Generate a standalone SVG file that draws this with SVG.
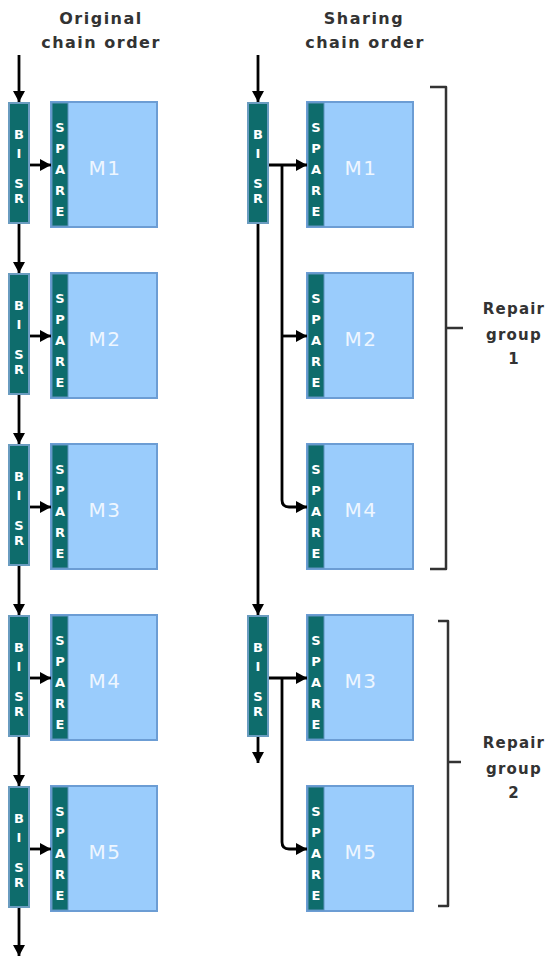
<svg xmlns="http://www.w3.org/2000/svg" width="551" height="957" viewBox="0 0 551 957">
<style>
.mem{fill:#9accfc;stroke:#6c9dd4;stroke-width:2}
.spare{fill:#0e6c6c;stroke:#5f93c0;stroke-width:1}
.bisr{fill:#0e6c6c;stroke:#6a9cc0;stroke-width:2}
.lt{font-family:"DejaVu Sans",Verdana,sans-serif;font-weight:bold;font-size:13px;fill:#ffffff;text-anchor:middle}
.ml{font-family:"DejaVu Sans",Verdana,sans-serif;font-size:20px;fill:#eef6ff;text-anchor:middle;letter-spacing:1.5px}
.hd{font-family:"DejaVu Sans",Verdana,sans-serif;font-weight:bold;font-size:16px;fill:#333333;text-anchor:middle;letter-spacing:1.5px}
.rg{font-family:"DejaVu Sans",Verdana,sans-serif;font-weight:bold;font-size:15px;fill:#333333;text-anchor:middle;letter-spacing:1.2px}
.arr{fill:none;stroke:#000;stroke-width:2.8;marker-end:url(#ah)}
.br{fill:none;stroke:#333;stroke-width:2.5;stroke-linejoin:round}
</style>
<defs>
<marker id="ah" markerUnits="userSpaceOnUse" markerWidth="12" markerHeight="12" refX="11" refY="6" orient="auto">
<path d="M0,0 L11,6 L0,12 z" fill="#000"/>
</marker>
</defs>

<g id="headers">
<text class="hd" x="101" y="24">Original</text>
<text class="hd" x="101" y="48">chain order</text>
<text class="hd" x="364" y="24">Sharing</text>
<text class="hd" x="365" y="48">chain order</text>
</g>

<!-- Left column -->
<g id="bisr-l1"><rect class="bisr" x="9" y="103" width="20" height="120"/>
<text class="lt" x="19" y="139">B</text><text class="lt" x="19" y="158">I</text><text class="lt" x="19" y="188">S</text><text class="lt" x="19" y="203">R</text></g>
<g id="mem-l1"><rect class="mem" x="51" y="102" width="106" height="125"/><rect class="spare" x="52" y="103" width="16" height="123"/>
<text class="lt" x="60" y="132">S</text><text class="lt" x="60" y="153">P</text><text class="lt" x="60" y="174">A</text><text class="lt" x="60" y="195">R</text><text class="lt" x="60" y="216">E</text>
<text class="ml" x="105" y="175">M1</text></g>

<g id="bisr-l2"><rect class="bisr" x="9" y="274" width="20" height="120"/>
<text class="lt" x="19" y="310">B</text><text class="lt" x="19" y="329">I</text><text class="lt" x="19" y="359">S</text><text class="lt" x="19" y="374">R</text></g>
<g id="mem-l2"><rect class="mem" x="51" y="273" width="106" height="125"/><rect class="spare" x="52" y="274" width="16" height="123"/>
<text class="lt" x="60" y="303">S</text><text class="lt" x="60" y="324">P</text><text class="lt" x="60" y="345">A</text><text class="lt" x="60" y="366">R</text><text class="lt" x="60" y="387">E</text>
<text class="ml" x="105" y="346">M2</text></g>

<g id="bisr-l3"><rect class="bisr" x="9" y="445" width="20" height="120"/>
<text class="lt" x="19" y="481">B</text><text class="lt" x="19" y="500">I</text><text class="lt" x="19" y="530">S</text><text class="lt" x="19" y="545">R</text></g>
<g id="mem-l3"><rect class="mem" x="51" y="444" width="106" height="125"/><rect class="spare" x="52" y="445" width="16" height="123"/>
<text class="lt" x="60" y="474">S</text><text class="lt" x="60" y="495">P</text><text class="lt" x="60" y="516">A</text><text class="lt" x="60" y="537">R</text><text class="lt" x="60" y="558">E</text>
<text class="ml" x="105" y="517">M3</text></g>

<g id="bisr-l4"><rect class="bisr" x="9" y="616" width="20" height="120"/>
<text class="lt" x="19" y="652">B</text><text class="lt" x="19" y="671">I</text><text class="lt" x="19" y="701">S</text><text class="lt" x="19" y="716">R</text></g>
<g id="mem-l4"><rect class="mem" x="51" y="615" width="106" height="125"/><rect class="spare" x="52" y="616" width="16" height="123"/>
<text class="lt" x="60" y="645">S</text><text class="lt" x="60" y="666">P</text><text class="lt" x="60" y="687">A</text><text class="lt" x="60" y="708">R</text><text class="lt" x="60" y="729">E</text>
<text class="ml" x="105" y="688">M4</text></g>

<g id="bisr-l5"><rect class="bisr" x="9" y="787" width="20" height="120"/>
<text class="lt" x="19" y="823">B</text><text class="lt" x="19" y="842">I</text><text class="lt" x="19" y="872">S</text><text class="lt" x="19" y="887">R</text></g>
<g id="mem-l5"><rect class="mem" x="51" y="786" width="106" height="125"/><rect class="spare" x="52" y="787" width="16" height="123"/>
<text class="lt" x="60" y="816">S</text><text class="lt" x="60" y="837">P</text><text class="lt" x="60" y="858">A</text><text class="lt" x="60" y="879">R</text><text class="lt" x="60" y="900">E</text>
<text class="ml" x="105" y="859">M5</text></g>

<!-- Right column -->
<g id="bisr-r1"><rect class="bisr" x="248" y="103" width="20" height="120"/>
<text class="lt" x="258" y="139">B</text><text class="lt" x="258" y="158">I</text><text class="lt" x="258" y="188">S</text><text class="lt" x="258" y="203">R</text></g>
<g id="mem-r1"><rect class="mem" x="307" y="102" width="106" height="125"/><rect class="spare" x="308" y="103" width="16" height="123"/>
<text class="lt" x="316" y="132">S</text><text class="lt" x="316" y="153">P</text><text class="lt" x="316" y="174">A</text><text class="lt" x="316" y="195">R</text><text class="lt" x="316" y="216">E</text>
<text class="ml" x="361" y="175">M1</text></g>

<g id="mem-r2"><rect class="mem" x="307" y="273" width="106" height="125"/><rect class="spare" x="308" y="274" width="16" height="123"/>
<text class="lt" x="316" y="303">S</text><text class="lt" x="316" y="324">P</text><text class="lt" x="316" y="345">A</text><text class="lt" x="316" y="366">R</text><text class="lt" x="316" y="387">E</text>
<text class="ml" x="361" y="346">M2</text></g>

<g id="mem-r4"><rect class="mem" x="307" y="444" width="106" height="125"/><rect class="spare" x="308" y="445" width="16" height="123"/>
<text class="lt" x="316" y="474">S</text><text class="lt" x="316" y="495">P</text><text class="lt" x="316" y="516">A</text><text class="lt" x="316" y="537">R</text><text class="lt" x="316" y="558">E</text>
<text class="ml" x="361" y="517">M4</text></g>

<g id="bisr-r2"><rect class="bisr" x="248" y="616" width="20" height="120"/>
<text class="lt" x="258" y="652">B</text><text class="lt" x="258" y="671">I</text><text class="lt" x="258" y="701">S</text><text class="lt" x="258" y="716">R</text></g>
<g id="mem-r3"><rect class="mem" x="307" y="615" width="106" height="125"/><rect class="spare" x="308" y="616" width="16" height="123"/>
<text class="lt" x="316" y="645">S</text><text class="lt" x="316" y="666">P</text><text class="lt" x="316" y="687">A</text><text class="lt" x="316" y="708">R</text><text class="lt" x="316" y="729">E</text>
<text class="ml" x="361" y="688">M3</text></g>

<g id="mem-r5"><rect class="mem" x="307" y="786" width="106" height="125"/><rect class="spare" x="308" y="787" width="16" height="123"/>
<text class="lt" x="316" y="816">S</text><text class="lt" x="316" y="837">P</text><text class="lt" x="316" y="858">A</text><text class="lt" x="316" y="879">R</text><text class="lt" x="316" y="900">E</text>
<text class="ml" x="361" y="859">M5</text></g>

<g id="connectors">
<path class="arr" d="M19,55 V102"/>
<path class="arr" d="M19,224 V273"/>
<path class="arr" d="M19,395 V444"/>
<path class="arr" d="M19,566 V615"/>
<path class="arr" d="M19,737 V786"/>
<path class="arr" d="M19,908 V956"/>
<path class="arr" d="M30,165 H51"/>
<path class="arr" d="M30,336 H51"/>
<path class="arr" d="M30,507 H51"/>
<path class="arr" d="M30,678 H51"/>
<path class="arr" d="M30,849 H51"/>
<path class="arr" d="M258,55 V102"/>
<path class="arr" d="M269,165 H307"/>
<path class="arr" d="M282,165 V500 Q282,507 289,507 H307"/>
<path class="arr" d="M282,336 H307"/>
<path class="arr" d="M258,224 V615"/>
<path class="arr" d="M269,678 H307"/>
<path class="arr" d="M282,678 V842 Q282,849 289,849 H307"/>
<path class="arr" d="M258,737 V763"/>
</g>

<g id="group1">
<path class="br" d="M430,87 H446 V569 H430"/>
<path class="br" d="M446,328 H463"/>
<text class="rg" x="514" y="314">Repair</text>
<text class="rg" x="514" y="340">group</text>
<text class="rg" x="514" y="364">1</text>
</g>
<g id="group2">
<path class="br" d="M438,621 H448 V906 H438"/>
<path class="br" d="M448,762 H461"/>
<text class="rg" x="514" y="748">Repair</text>
<text class="rg" x="514" y="774">group</text>
<text class="rg" x="514" y="798">2</text>
</g>
</svg>
